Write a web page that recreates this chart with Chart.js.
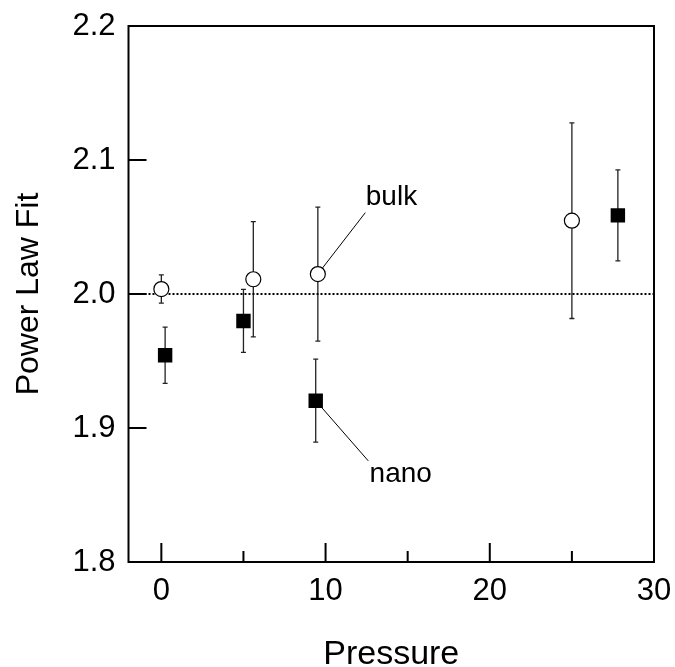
<!DOCTYPE html>
<html>
<head>
<meta charset="utf-8">
<script src="https://cdn.jsdelivr.net/npm/chart.js@4/dist/chart.umd.min.js"></script>
<style>
  html, body { margin: 0; padding: 0; background: #fff; }
  #wrap { width: 675px; height: 667px; position: relative; }
</style>
</head>
<body>
<div id="wrap"><canvas id="c" width="675" height="667"></canvas></div>
<script>
// ---- data ----
const bulkX = [0, 5.6, 9.53, 25.0];
const bulkY = [2.0037, 2.011, 2.0149, 2.0547];
const bulkErr = [0.0105, 0.043, 0.050, 0.073];

const nanoX = [0.23, 5.0, 9.4, 27.8];
const nanoY = [1.9543, 1.9799, 1.9204, 2.0587];
const nanoErr = [0.021, 0.0235, 0.031, 0.034];

const refLineX = [-2, 30];
const refLineY = [2.0, 2.0];

const xTicks = [0, 10, 20, 30];
const xMinorTicks = [5, 15, 25];
const yTicks = [1.8, 1.9, 2.0, 2.1, 2.2];

const labelTexts = ['bulk', 'nano'];
const labelAnchorX = [9.53, 9.4];     // point the leader starts from
const labelAnchorY = [2.0149, 1.9204];
const labelEndX = [12.42, 12.6];      // leader end
const labelEndY = [2.0607, 1.8755];
const labelTextX = [12.45, 12.68];
const labelTextY = [2.0665, 1.8595];  // baseline

const FONT = '"Liberation Sans", Arial, Helvetica, sans-serif';

const boxPlugin = {
  id: 'boxPlugin',
  beforeDatasetsDraw(chart) {
    const ctx = chart.ctx, xs = chart.scales.x, ys = chart.scales.y;
    ctx.save();
    ctx.strokeStyle = '#222';
    ctx.lineWidth = 1.3;
    const drawErr = (X, Y, E, cap) => {
      for (let i = 0; i < X.length; i++) {
        const px = xs.getPixelForValue(X[i]);
        const top = ys.getPixelForValue(Y[i] + E[i]);
        const bot = ys.getPixelForValue(Y[i] - E[i]);
        ctx.beginPath();
        ctx.moveTo(px, top); ctx.lineTo(px, bot);
        ctx.moveTo(px - cap, top); ctx.lineTo(px + cap, top);
        ctx.moveTo(px - cap, bot); ctx.lineTo(px + cap, bot);
        ctx.stroke();
      }
    };
    drawErr(bulkX, bulkY, bulkErr, 2.5);
    drawErr(nanoX, nanoY, nanoErr, 2.5);
    ctx.restore();
  },
  afterDatasetsDraw(chart) {
    const ctx = chart.ctx, xs = chart.scales.x, ys = chart.scales.y;
    const a = chart.chartArea;
    ctx.save();
    // leader lines and labels
    ctx.strokeStyle = '#000';
    ctx.lineWidth = 1;
    ctx.fillStyle = '#000';
    ctx.font = '28px ' + FONT;
    ctx.textAlign = 'left';
    ctx.textBaseline = 'alphabetic';
    for (let i = 0; i < labelTexts.length; i++) {
      const x0 = xs.getPixelForValue(labelAnchorX[i]);
      const y0 = ys.getPixelForValue(labelAnchorY[i]);
      const x1 = xs.getPixelForValue(labelEndX[i]);
      const y1 = ys.getPixelForValue(labelEndY[i]);
      const d = Math.hypot(x1 - x0, y1 - y0);
      const r = 7.5;
      ctx.beginPath();
      ctx.moveTo(x0 + (x1 - x0) / d * r, y0 + (y1 - y0) / d * r);
      ctx.lineTo(x1, y1);
      ctx.stroke();
      ctx.fillText(labelTexts[i], xs.getPixelForValue(labelTextX[i]), ys.getPixelForValue(labelTextY[i]));
    }
    // box
    ctx.strokeStyle = '#000';
    ctx.lineWidth = 2;
    ctx.strokeRect(a.left, a.top, a.right - a.left, a.bottom - a.top);
    // inward ticks
    ctx.beginPath();
    xTicks.forEach(v => {
      const px = xs.getPixelForValue(v);
      ctx.moveTo(px, a.bottom); ctx.lineTo(px, a.bottom - 19);
    });
    xMinorTicks.forEach(v => {
      const px = xs.getPixelForValue(v);
      ctx.moveTo(px, a.bottom); ctx.lineTo(px, a.bottom - 11);
    });
    yTicks.forEach(v => {
      const py = ys.getPixelForValue(v);
      ctx.moveTo(a.left, py); ctx.lineTo(a.left + 18, py);
    });
    ctx.stroke();
    ctx.restore();
  }
};

new Chart(document.getElementById('c'), {
  type: 'scatter',
  data: {
    datasets: [
      {
        label: 'bulk',
        data: bulkX.map((x, i) => ({ x, y: bulkY[i] })),
        pointStyle: 'circle',
        pointRadius: 7.5,
        pointBackgroundColor: '#fff',
        pointBorderColor: '#000',
        pointBorderWidth: 1.2,
        order: 2
      },
      {
        label: 'nano',
        data: nanoX.map((x, i) => ({ x, y: nanoY[i] })),
        pointStyle: 'rect',
        pointRadius: 10.2,
        pointBackgroundColor: '#000',
        pointBorderColor: '#000',
        pointBorderWidth: 0,
        order: 1
      },
      {
        type: 'line',
        label: 'ref',
        data: refLineX.map((x, i) => ({ x, y: refLineY[i] })),
        borderColor: '#000',
        borderWidth: 2,
        borderDash: [2, 2],
        pointRadius: 0,
        fill: false,
        order: 3
      }
    ]
  },
  options: {
    responsive: false,
    animation: false,
    devicePixelRatio: 1,
    layout: { padding: { left: 0, right: 21, top: 26, bottom: 0 } },
    plugins: { legend: { display: false }, tooltip: { enabled: false } },
    scales: {
      x: {
        type: 'linear',
        min: -2, max: 30,
        afterBuildTicks: s => { s.ticks = xTicks.map(v => ({ value: v })); },
        afterFit: s => { s.height = 105; s.paddingLeft = 0; s.paddingRight = 0; },
        grid: { display: false, drawTicks: false },
        border: { display: false },
        ticks: {
          color: '#000',
          font: { family: FONT, size: 31 },
          padding: 11,
          maxRotation: 0,
          callback: v => String(v)
        },
        title: {
          display: true,
          text: 'Pressure',
          color: '#000',
          font: { family: FONT, size: 34 },
          padding: { top: 28, bottom: -8 }
        }
      },
      y: {
        type: 'linear',
        min: 1.8, max: 2.2,
        afterBuildTicks: s => { s.ticks = yTicks.map(v => ({ value: v })); },
        afterFit: s => { s.width = 128.5; s.paddingTop = 0; s.paddingBottom = 0; },
        grid: { display: false, drawTicks: false },
        border: { display: false },
        ticks: {
          color: '#000',
          font: { family: FONT, size: 31 },
          padding: 13,
          callback: v => v.toFixed(1)
        },
        title: {
          display: true,
          text: 'Power Law Fit',
          color: '#000',
          font: { family: FONT, size: 32 },
          padding: { top: 10, bottom: 0 }
        }
      }
    }
  },
  plugins: [boxPlugin]
});
</script>
</body>
</html>
